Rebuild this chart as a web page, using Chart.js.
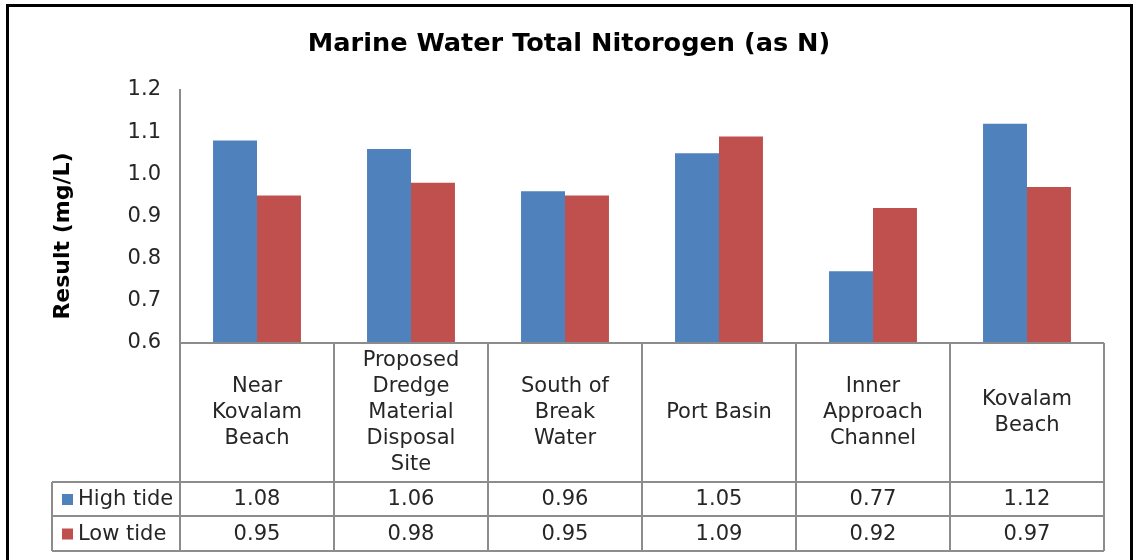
<!DOCTYPE html>
<html lang="en">
<head>
<meta charset="UTF-8">
<title>Marine Water Total Nitorogen (as N)</title>
<script src="https://cdn.jsdelivr.net/npm/chart.js"></script>
<style>
  body { margin: 0; background: #ffffff; }
  #wrap { width: 1133px; height: 560px; }
</style>
</head>
<body>

<div id="wrap"><canvas id="myChart" width="1133" height="560"></canvas></div>

<script>
// data
const categories = [
  ['Near', 'Kovalam', 'Beach'],
  ['Proposed', 'Dredge', 'Material', 'Disposal', 'Site'],
  ['South of', 'Break', 'Water'],
  ['Port Basin'],
  ['Inner', 'Approach', 'Channel'],
  ['Kovalam', 'Beach']
];
const highTide = [1.08, 1.06, 0.96, 1.05, 0.77, 1.12];
const lowTide = [0.95, 0.98, 0.95, 1.09, 0.92, 0.97];
const seriesNames = ['High tide', 'Low tide'];
const seriesColors = ['#4F81BD', '#C0504D'];
const chartTitle = 'Marine Water Total Nitorogen (as N)';
const yTitle = 'Result (mg/L)';

const FONT = "'DejaVu Sans', Verdana, sans-serif";
const LINE = '#8C8C8C';
const TEXT = '#262626';

// draws the frame, titles and the data table under the plot
const dataTable = {
  id: 'dataTable',
  beforeDraw(chart) {
    const ctx = chart.ctx;
    ctx.save();
    ctx.fillStyle = '#ffffff';
    ctx.fillRect(0, 0, chart.width, chart.height);
    ctx.restore();
  },
  afterDraw(chart) {
    const ctx = chart.ctx;
    const area = chart.chartArea;
    const xs = chart.scales.x;
    const n = chart.data.labels.length;
    const w = (area.right - area.left) / n;
    const top = area.bottom;
    const catBottom = top + 139;
    const row1 = catBottom + 34;
    const row2 = row1 + 35;
    const legLeft = 52;

    ctx.save();
    ctx.strokeStyle = LINE;
    ctx.lineWidth = 2;
    ctx.beginPath();
    // horizontal lines
    ctx.moveTo(area.left, top); ctx.lineTo(area.right, top);
    [catBottom, row1, row2].forEach(y => { ctx.moveTo(legLeft, y); ctx.lineTo(area.right, y); });
    // vertical lines
    for (let i = 0; i <= n; i++) {
      const x = area.left + i * w;
      ctx.moveTo(x, top); ctx.lineTo(x, row2);
    }
    ctx.moveTo(legLeft, catBottom); ctx.lineTo(legLeft, row2);
    ctx.stroke();

    // category labels
    ctx.fillStyle = TEXT;
    ctx.textAlign = 'center';
    ctx.textBaseline = 'middle';
    ctx.font = '21px ' + FONT;
    const lh = 26;
    chart.data.labels.forEach((lines, i) => {
      const cx = xs.getPixelForValue(i);
      const cy = (top + catBottom) / 2 - (lines.length - 1) * lh / 2;
      lines.forEach((t, j) => ctx.fillText(t, cx, cy + j * lh));
    });

    // value rows with legend keys
    const rows = [[catBottom, row1], [row1, row2]];
    chart.data.datasets.forEach((ds, k) => {
      const cy = (rows[k][0] + rows[k][1]) / 2 + 1;
      ctx.textAlign = 'center';
      ctx.fillStyle = TEXT;
      ds.data.forEach((v, i) => ctx.fillText(v.toFixed(2), xs.getPixelForValue(i), cy));
      ctx.fillStyle = ds.backgroundColor;
      ctx.fillRect(legLeft + 10, cy - 6, 11, 11);
      ctx.fillStyle = TEXT;
      ctx.textAlign = 'left';
      ctx.fillText(ds.label, legLeft + 26, cy);
    });

    // chart title
    ctx.textAlign = 'center';
    ctx.fillStyle = '#000000';
    ctx.font = 'bold 25.6px ' + FONT;
    ctx.fillText(chartTitle, 569, 44);

    // y axis title
    ctx.save();
    ctx.translate(63, 236);
    ctx.rotate(-Math.PI / 2);
    ctx.font = 'bold 22px ' + FONT;
    ctx.fillText(yTitle, 0, 0);
    ctx.restore();

    // outer frame
    ctx.strokeStyle = '#000000';
    ctx.lineWidth = 3;
    ctx.strokeRect(7.5, 5.5, 1124, 600);
    ctx.restore();
  }
};

const ctx = document.getElementById('myChart').getContext('2d');
new Chart(ctx, {
  type: 'bar',
  data: {
    labels: categories,
    datasets: [
      { label: seriesNames[0], data: highTide, backgroundColor: seriesColors[0] },
      { label: seriesNames[1], data: lowTide, backgroundColor: seriesColors[1] }
    ]
  },
  options: {
    responsive: false,
    animation: false,
    layout: { padding: { left: 0, right: 29, top: 90, bottom: 217 } },
    datasets: { bar: { categoryPercentage: 0.571, barPercentage: 1.0 } },
    plugins: {
      legend: { display: false },
      tooltip: { enabled: false },
      title: { display: false }
    },
    scales: {
      x: { display: false },
      y: {
        min: 0.6,
        max: 1.2,
        afterFit(scale) { scale.width = 180; },
        grid: { display: false, drawTicks: false },
        border: { display: true, color: LINE, width: 2 },
        ticks: {
          stepSize: 0.1,
          padding: 19,
          color: TEXT,
          font: { family: FONT, size: 21 },
          callback: v => v.toFixed(1)
        }
      }
    }
  },
  plugins: [dataTable]
});
</script>

</body>
</html>
